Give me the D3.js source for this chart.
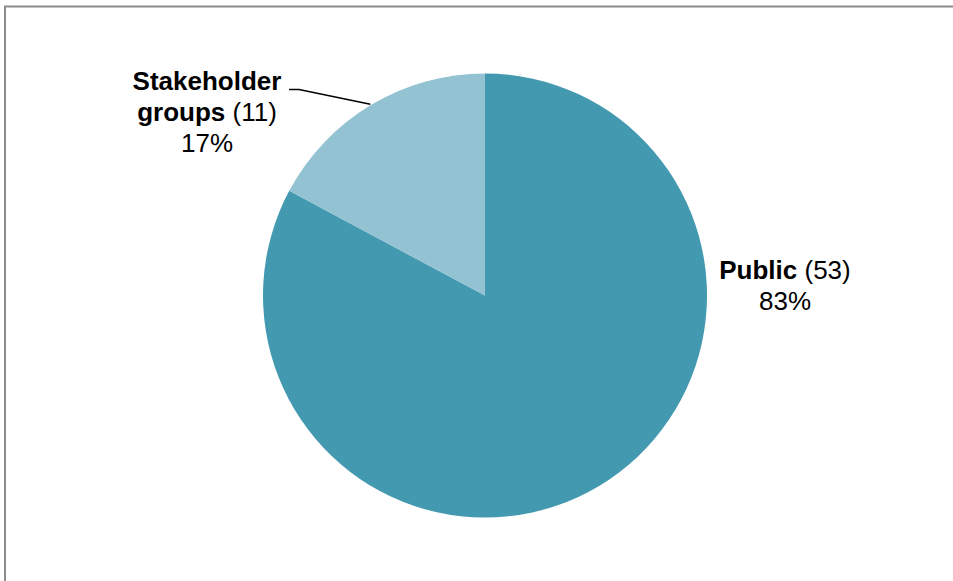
<!DOCTYPE html>
<html>
<head>
<meta charset="utf-8">
<script src="https://cdn.jsdelivr.net/npm/d3@7"></script>
<style>
  html, body { margin: 0; padding: 0; background: #fff; }
  svg { display: block; font-family: "Liberation Sans", Arial, sans-serif; }
</style>
</head>
<body>
<div id="chart"></div>
<script>
// data
const categories = ["Public", "Stakeholder groups"];
const counts = [53, 11];
const percents = ["83%", "17%"];
const colours = ["#4399b0", "#93c2d3"];

const width = 953;
const height = 581;
const cx = 485;
const cy = 295.5;
const radius = 222;

const svg = d3.select("#chart")
  .append("svg")
  .attr("width", width)
  .attr("height", height);

// frame
svg.append("rect")
  .attr("x", 5)
  .attr("y", 6.5)
  .attr("width", width + 10)
  .attr("height", height + 10)
  .attr("fill", "none")
  .attr("stroke", "#8c8c8c")
  .attr("stroke-width", 2);

const data = categories.map((c, i) => ({ name: c, count: counts[i], pct: percents[i], colour: colours[i] }));

const pie = d3.pie().sort(null).value((d) => d.count);
const arc = d3.arc().innerRadius(0).outerRadius(radius);
const arcs = pie(data);

const g = svg.append("g").attr("transform", `translate(${cx},${cy})`);

g.selectAll("path.slice")
  .data(arcs)
  .join("path")
  .attr("class", "slice")
  .attr("d", arc)
  .attr("fill", (d) => d.data.colour);

// leader line for stakeholder slice, ending at the slice's outer midpoint
const sk = arcs[1];
const mid = (sk.startAngle + sk.endAngle) / 2;
const ex = cx + Math.sin(mid) * (radius + 1);
const ey = cy - Math.cos(mid) * (radius + 1);
svg.append("polyline")
  .attr("points", `289,89.5 299,89.5 ${ex},${ey}`)
  .attr("fill", "none")
  .attr("stroke", "#000")
  .attr("stroke-width", 1.5);

const fs = 26;

function label(x, y, lines) {
  const t = svg.append("text")
    .attr("x", x)
    .attr("y", y)
    .attr("text-anchor", "middle")
    .attr("font-size", fs)
    .attr("fill", "#000");
  lines.forEach((ln, i) => {
    const ts = t.append("tspan").attr("x", x).attr("dy", i === 0 ? 0 : 31);
    ln.forEach((part) => {
      ts.append("tspan")
        .attr("font-weight", part.bold ? "bold" : "normal")
        .text(part.text);
    });
  });
}

label(785, 279, [
  [{ text: "Public", bold: true }, { text: " (" + counts[0] + ")" }],
  [{ text: percents[0] }]
]);

label(207, 90, [
  [{ text: "Stakeholder", bold: true }],
  [{ text: "groups", bold: true }, { text: " (" + counts[1] + ")" }],
  [{ text: percents[1] }]
]);
</script>
</body>
</html>
